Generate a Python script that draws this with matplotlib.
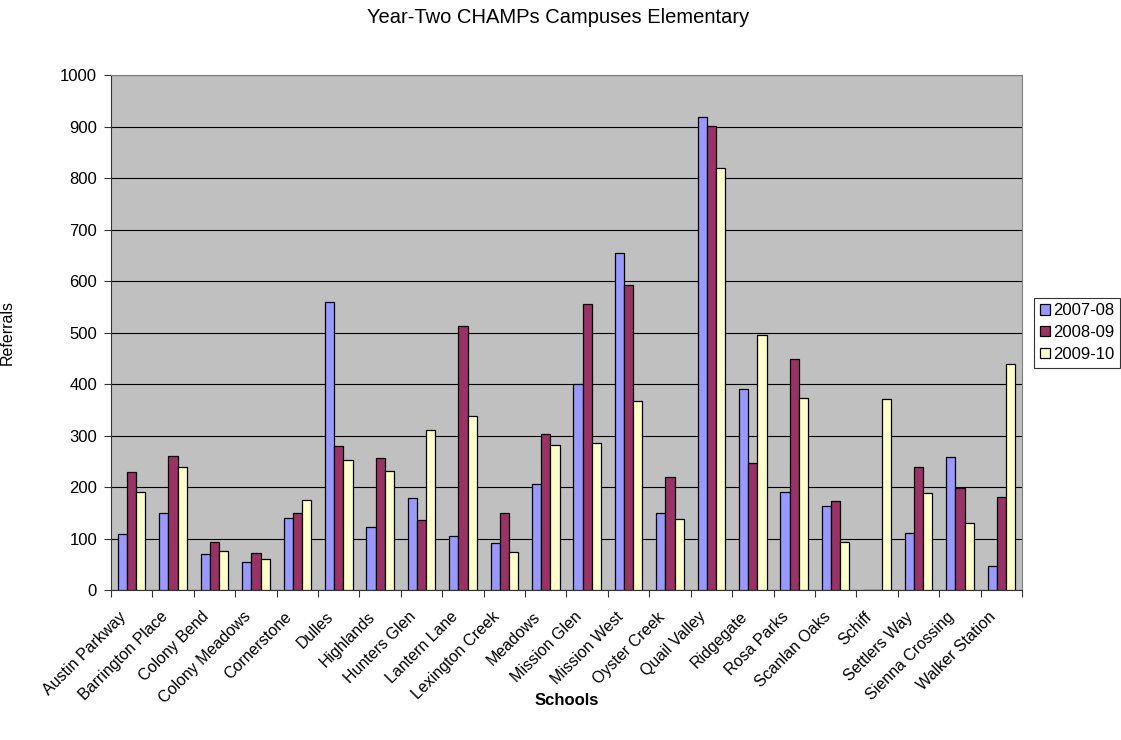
import numpy as np
import matplotlib.pyplot as plt
from matplotlib.transforms import ScaledTranslation

plt.rcParams['font.family'] = ['Liberation Sans', 'DejaVu Sans']

schools = ['Austin Parkway', 'Barrington Place', 'Colony Bend', 'Colony Meadows',
           'Cornerstone', 'Dulles', 'Highlands', 'Hunters Glen', 'Lantern Lane',
           'Lexington Creek', 'Meadows', 'Mission Glen', 'Mission West',
           'Oyster Creek', 'Quail Valley', 'Ridgegate', 'Rosa Parks',
           'Scanlan Oaks', 'Schiff', 'Settlers Way', 'Sienna Crossing',
           'Walker Station']

ref_0708 = [108, 150, 70, 54, 139, 559, 122, 178, 104, 91, 206, 401, 654,
            149, 918, 391, 190, 164, 0, 110, 259, 47]
ref_0809 = [230, 260, 93, 72, 149, 280, 256, 136, 512, 150, 302, 555, 593,
            220, 901, 247, 449, 173, 0, 238, 198, 181]
ref_0910 = [190, 238, 75, 61, 175, 253, 232, 311, 337, 74, 282, 286, 367,
            137, 820, 495, 372, 93, 371, 188, 130, 438]

series = [('2007-08', ref_0708, '#9999FF'),
          ('2008-09', ref_0809, '#993366'),
          ('2009-10', ref_0910, '#FFFFCC')]

fig = plt.figure(figsize=(11.21, 7.4), dpi=100)
ax = fig.add_axes([0.0990, 0.2027, 0.8127, 0.6959])
ax.set_facecolor('#C0C0C0')

x = np.arange(len(schools))
w = 1 / 4.5
for i, (name, vals, col) in enumerate(series):
    ax.bar(x + (i - 1) * w, vals, width=w, color=col, edgecolor='black',
           linewidth=0.9, label=name, zorder=3)

ax.set_xlim(-0.5, len(schools) - 0.5)
ax.set_ylim(0, 1000)
ax.set_yticks(np.arange(0, 1001, 100))
ax.yaxis.grid(True, color='black', linewidth=0.8, zorder=1)
ax.set_axisbelow(True)

# category ticks sit on the boundaries, labels at the centres
ax.set_xticks(np.arange(-0.5, len(schools) + 0.5, 1))
ax.set_xticklabels([])
ax.set_xticks(x, minor=True)
ax.set_xticklabels(schools, minor=True, rotation=45, ha='right',
                   rotation_mode='anchor', fontsize=11.5)
ax.tick_params(axis='x', which='minor', length=0, pad=13.8)
ax.tick_params(axis='x', which='major', length=5, color='#333333', direction='out')
ax.tick_params(axis='y', labelsize=12, length=5, pad=5, color='#333333',
               direction='out')

# nudge the slanted names a little to the left
shift = ScaledTranslation(-0.13, 0, fig.dpi_scale_trans)
for lab in ax.get_xticklabels(minor=True):
    lab.set_transform(lab.get_transform() + shift)

for side in ['top', 'right']:
    ax.spines[side].set_color('#808080')
for side in ['left', 'bottom']:
    ax.spines[side].set_color('#333333')

ax.set_ylabel('Referrals', fontsize=11.5)
ax.yaxis.set_label_coords(-0.1054, 0.5)
ax.set_xlabel('Schools', fontsize=12, fontweight='bold')
ax.xaxis.set_label_coords(0.5, -0.2)
fig.text(0.498, 0.9757, 'Year-Two CHAMPs Campuses Elementary', fontsize=14.5,
         ha='center', va='center')

leg = ax.legend(loc='center left', bbox_to_anchor=(1.0132, 0.5), fontsize=12,
                frameon=True, fancybox=False, edgecolor='black',
                handlelength=0.6, handleheight=0.6, handletextpad=0.2,
                borderpad=0.35, labelspacing=0.4, borderaxespad=0)
leg.get_frame().set_linewidth(0.8)

fig.savefig('out.png', dpi=100)
